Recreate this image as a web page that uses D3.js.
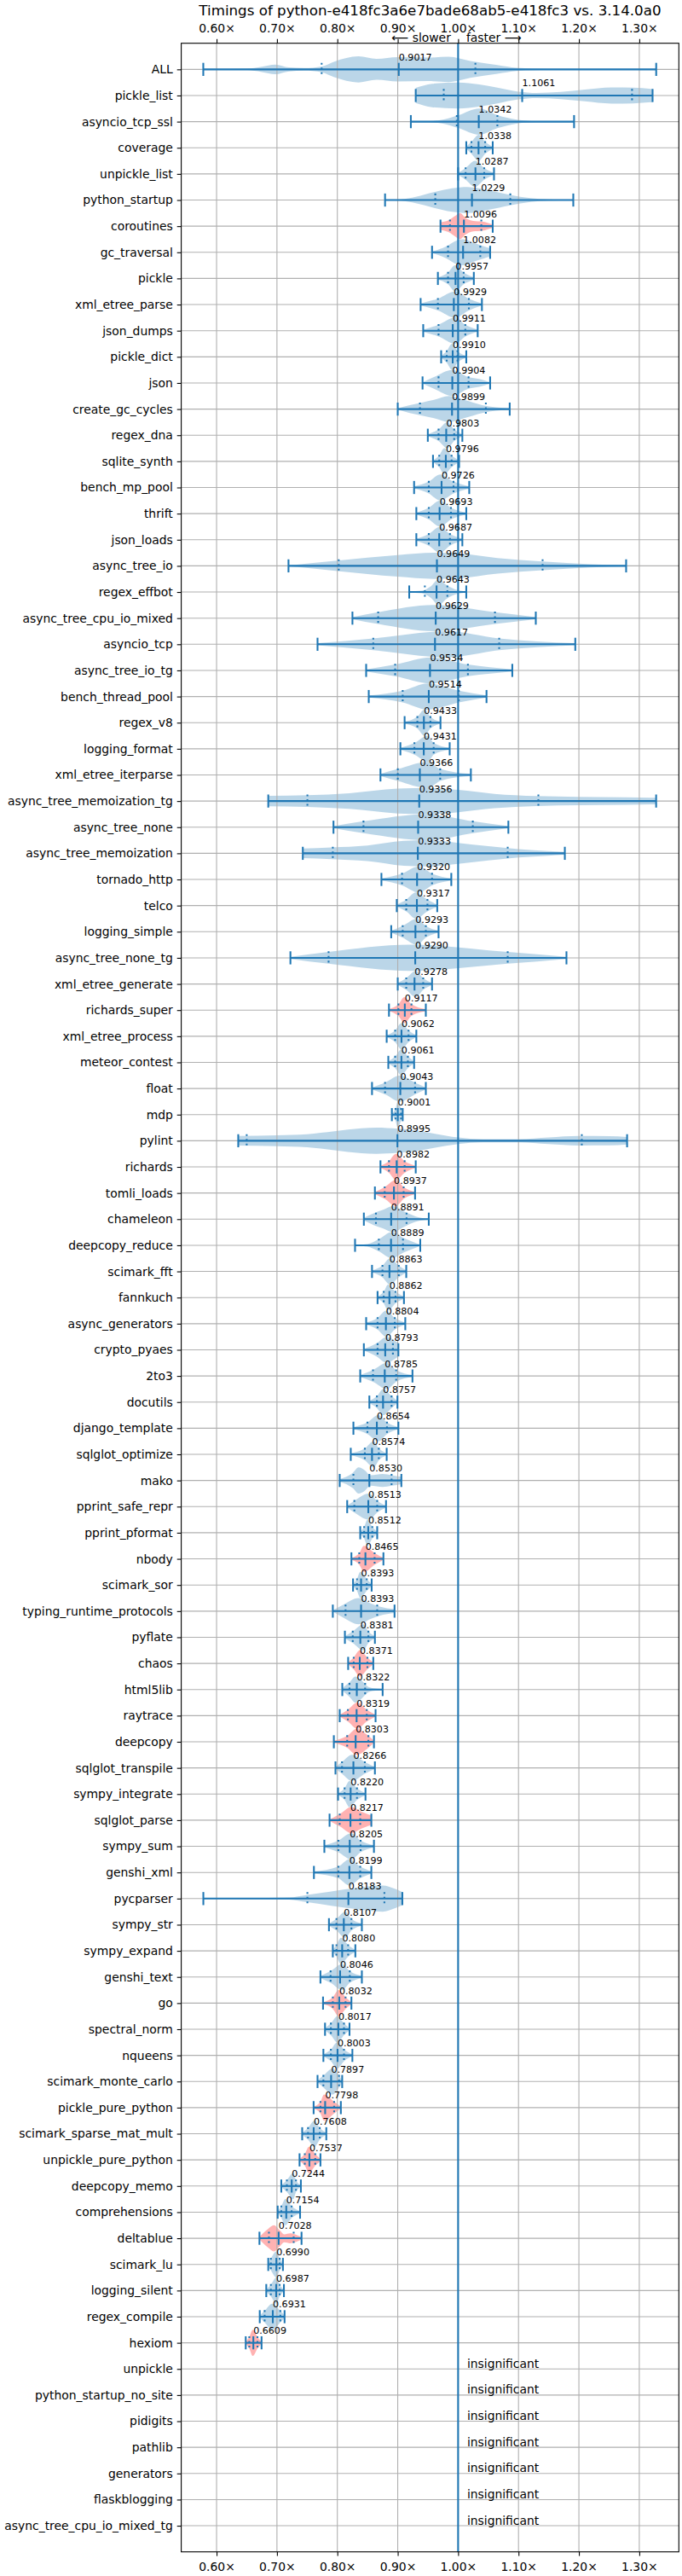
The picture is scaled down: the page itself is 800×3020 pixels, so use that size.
<!DOCTYPE html>
<html><head><meta charset="utf-8">
<script src="https://cdn.jsdelivr.net/npm/d3@7"></script>
<style>
body{margin:0;background:#fff}
svg text{font-family:"DejaVu Sans",sans-serif;fill:#000}
</style>
</head><body>
<svg id="c" width="800" height="3020"></svg>
<script>
// ---------------- DATA ----------------
const chartTitle = "Timings of python-e418fc3a6e7bade68ab5-e418fc3 vs. 3.14.0a0";
const benchmarks = ["ALL","pickle_list","asyncio_tcp_ssl","coverage","unpickle_list","python_startup","coroutines","gc_traversal","pickle","xml_etree_parse",
"json_dumps","pickle_dict","json","create_gc_cycles","regex_dna","sqlite_synth","bench_mp_pool","thrift","json_loads","async_tree_io",
"regex_effbot","async_tree_cpu_io_mixed","asyncio_tcp","async_tree_io_tg","bench_thread_pool","regex_v8","logging_format","xml_etree_iterparse","async_tree_memoization_tg","async_tree_none",
"async_tree_memoization","tornado_http","telco","logging_simple","async_tree_none_tg","xml_etree_generate","richards_super","xml_etree_process","meteor_contest","float",
"mdp","pylint","richards","tomli_loads","chameleon","deepcopy_reduce","scimark_fft","fannkuch","async_generators","crypto_pyaes",
"2to3","docutils","django_template","sqlglot_optimize","mako","pprint_safe_repr","pprint_pformat","nbody","scimark_sor","typing_runtime_protocols",
"pyflate","chaos","html5lib","raytrace","deepcopy","sqlglot_transpile","sympy_integrate","sqlglot_parse","sympy_sum","genshi_xml",
"pycparser","sympy_str","sympy_expand","genshi_text","go","spectral_norm","nqueens","scimark_monte_carlo","pickle_pure_python","scimark_sparse_mat_mult",
"unpickle_pure_python","deepcopy_memo","comprehensions","deltablue","scimark_lu","logging_silent","regex_compile","hexiom"];

const mins = [0.578,0.9298,0.9217,1.0135,1.0,0.879,0.9708,0.9568,0.9665,0.9379,
0.9422,0.9719,0.9411,0.9,0.9498,0.9584,0.9271,0.9308,0.9308,0.7191,
0.919,0.825,0.7672,0.8477,0.852,0.9114,0.9044,0.8714,0.6856,0.7936,
0.7428,0.873,0.8984,0.8892,0.7223,0.9,0.8855,0.8817,0.8844,0.8574,
0.8903,0.6359,0.8714,0.8622,0.8439,0.8293,0.8574,0.8666,0.8477,0.8439,
0.8379,0.853,0.8266,0.8222,0.8039,0.8163,0.8379,0.8233,0.826,0.7925,
0.8125,0.8179,0.8082,0.8039,0.7942,0.7969,0.8012,0.7871,0.7785,0.7612,
0.5781,0.7861,0.7925,0.772,0.7763,0.7796,0.7769,0.7672,0.7607,0.7418,
0.7374,0.7072,0.7012,0.671,0.6856,0.6823,0.6715,0.6483];

const q10s = [0.774,0.9762,0.9978,1.022,1.0124,0.9622,0.9865,0.9833,0.9833,0.9665,
0.9676,0.9811,0.9676,0.9368,0.9676,0.9687,0.9514,0.9514,0.9514,0.8023,
0.9449,0.8676,0.8595,0.8957,0.9082,0.9325,0.9276,0.9001,0.7504,0.8433,
0.7925,0.9071,0.9141,0.9082,0.7855,0.9141,0.9011,0.8957,0.8957,0.879,
0.8963,0.6499,0.8855,0.8784,0.8639,0.8687,0.8747,0.8768,0.8666,0.8666,
0.859,0.8655,0.8498,0.8455,0.8266,0.8282,0.8444,0.8363,0.8325,0.8136,
0.8255,0.8271,0.8201,0.8174,0.8163,0.8077,0.812,0.8039,0.8017,0.8017,
0.7504,0.7985,0.7985,0.7888,0.7925,0.7893,0.7893,0.7769,0.772,0.7515,
0.7461,0.7164,0.7072,0.6867,0.6899,0.6899,0.6796,0.6542];

const medians = [0.9017,1.1061,1.0342,1.0338,1.0287,1.0229,1.0096,1.0082,0.9957,0.9929,
0.9911,0.9910,0.9904,0.9899,0.9803,0.9796,0.9726,0.9693,0.9687,0.9649,
0.9643,0.9629,0.9617,0.9534,0.9514,0.9433,0.9431,0.9366,0.9356,0.9338,
0.9333,0.9320,0.9317,0.9293,0.9290,0.9278,0.9117,0.9062,0.9061,0.9043,
0.9001,0.8995,0.8982,0.8937,0.8891,0.8889,0.8863,0.8862,0.8804,0.8793,
0.8785,0.8757,0.8654,0.8574,0.8530,0.8513,0.8512,0.8465,0.8393,0.8393,
0.8381,0.8371,0.8322,0.8319,0.8303,0.8266,0.8220,0.8217,0.8205,0.8199,
0.8183,0.8107,0.8080,0.8046,0.8032,0.8017,0.8003,0.7897,0.7798,0.7608,
0.7537,0.7244,0.7154,0.7028,0.6990,0.6987,0.6931,0.6609];

const q90s = [1.0286,1.288,1.065,1.0448,1.0432,1.0864,1.0384,1.0367,1.0092,1.0178,
1.0119,0.9989,1.0173,1.0459,0.9935,0.9892,0.9924,0.9881,0.9865,1.1399,
0.9822,1.061,1.068,1.0162,1.0011,0.9541,0.9595,0.9703,1.1329,1.0243,
1.0821,0.9568,0.9492,0.9465,1.0821,0.9422,0.9227,0.9179,0.9168,0.9287,
0.9055,1.2048,0.9114,0.9098,0.9146,0.9087,0.9017,0.8963,0.8951,0.892,
0.8974,0.8898,0.8822,0.8687,0.8898,0.866,0.8579,0.8617,0.8487,0.866,
0.8514,0.8498,0.846,0.8487,0.8514,0.8455,0.8325,0.8379,0.8385,0.8379,
0.8779,0.8233,0.8179,0.8206,0.8136,0.811,0.811,0.8028,0.7947,0.7709,
0.7634,0.7315,0.7243,0.7277,0.7045,0.7045,0.7056,0.6677];

const maxs = [1.328,1.322,1.192,1.0573,1.0594,1.1907,1.0573,1.053,1.026,1.0394,
1.0324,1.0135,1.053,1.0854,1.007,1.0016,1.0184,1.0135,1.007,1.2782,
1.0135,1.1286,1.194,1.0897,1.047,0.9708,0.986,1.0211,1.3279,1.0832,
1.1767,0.9887,0.9654,0.9676,1.1794,0.9568,0.9465,0.9308,0.9271,0.9465,
0.9082,1.2798,0.9298,0.9287,0.9514,0.9373,0.9141,0.9103,0.9125,0.9011,
0.9244,0.8995,0.9011,0.8817,0.906,0.8806,0.866,0.8763,0.8568,0.8947,
0.8622,0.8595,0.875,0.8633,0.8606,0.8622,0.8466,0.8563,0.8606,0.8563,
0.9076,0.8406,0.8298,0.8406,0.8233,0.8201,0.8249,0.808,0.8058,0.7817,
0.772,0.7396,0.7383,0.7407,0.7099,0.7115,0.7126,0.6745];

// location of the densest part of each distribution
const peaks = [0.835,1.0,1.035,1.034,1.028,1.015,1.003,1.008,0.995,0.995,
0.995,0.99,0.99,0.985,0.982,0.977,0.97,0.97,0.97,0.96,
0.968,0.96,0.98,0.955,0.95,0.944,0.95,0.95,0.95,0.95,
0.95,0.935,0.93,0.932,0.92,0.93,0.911,0.906,0.906,0.904,
0.9,0.865,0.897,0.897,0.892,0.892,0.887,0.884,0.881,0.882,
0.882,0.876,0.868,0.86,0.835,0.852,0.85,0.844,0.838,0.835,
0.843,0.837,0.83,0.833,0.832,0.824,0.82,0.823,0.823,0.82,
0.868,0.813,0.806,0.808,0.802,0.8,0.8,0.792,0.778,0.762,
0.753,0.727,0.714,0.695,0.699,0.699,0.692,0.66];

const flagged = ["coroutines","richards_super","richards","tomli_loads","nbody","chaos","raytrace","deepcopy",
"sqlglot_parse","go","pickle_pure_python","unpickle_pure_python","deltablue","hexiom"];

const insignificant = ["unpickle","python_startup_no_site","pidigits","pathlib","generators","flaskblogging","async_tree_cpu_io_mixed_tg"];

// density outlines: [value, relative density]
const densityALL = [[0.578,0.01],[0.62,0.02],[0.65,0.05],[0.675,0.2],[0.697,0.37],[0.72,0.15],[0.745,0.1],[0.774,0.22],[0.795,0.6],[0.835,1.0],[0.865,0.8],[0.9,0.93],[0.95,0.9],[0.984,0.97],[1.02,0.65],[1.065,0.33],[1.097,0.12],[1.15,0.03],[1.22,0.01],[1.328,0.005]];
const densityPickleList = [[0.9298,0.58],[0.957,0.9],[1.0,1.0],[1.035,0.85],[1.065,0.6],[1.1,0.3],[1.13,0.2],[1.17,0.28],[1.21,0.45],[1.254,0.62],[1.29,0.6],[1.322,0.5]];
const densityAsyncioTcpSsl = [[0.9217,0.01],[0.95,0.03],[0.975,0.15],[1.0,0.48],[1.035,1.0],[1.065,0.5],[1.097,0.15],[1.13,0.03],[1.192,0.01]];
const densityPythonStartup = [[0.879,0.01],[0.905,0.05],[0.93,0.25],[0.96,0.6],[0.99,0.9],[1.015,1.0],[1.05,0.75],[1.086,0.4],[1.12,0.15],[1.15,0.05],[1.1907,0.01]];
const densityCoroutines = [[0.9708,0.3],[0.984,0.45],[0.997,0.85],[1.003,1.0],[1.012,0.65],[1.025,0.4],[1.04,0.35],[1.0573,0.12]];
const densityGcTraversal = [[0.9568,0.05],[0.98,0.45],[1.0,0.95],[1.008,1.0],[1.03,0.65],[1.053,0.3]];
const densityJson = [[0.9411,0.05],[0.96,0.45],[0.99,1.0],[1.017,0.45],[1.035,0.3],[1.053,0.05]];
const densityCreateGcCycles = [[0.9,0.05],[0.92,0.3],[0.94,0.5],[0.96,0.7],[0.985,1.0],[1.01,0.7],[1.04,0.3],[1.0854,0.05]];
const densityAsyncTreeIo = [[0.7191,0.03],[0.80,0.4],[0.90,0.83],[0.96,1.0],[1.0,0.95],[1.065,0.6],[1.14,0.33],[1.22,0.12],[1.2782,0.04]];
const densityRegexEffbot = [[0.919,0.05],[0.94,0.1],[0.955,0.45],[0.968,1.0],[0.98,0.55],[0.995,0.2],[1.0135,0.05]];
const densityMemoTg = [[0.6856,0.4],[0.75,0.45],[0.82,0.6],[0.9,0.95],[0.95,1.0],[1.0,0.85],[1.06,0.55],[1.13,0.38],[1.2,0.32],[1.28,0.28],[1.3279,0.25]];
const densityMemo = [[0.7428,0.37],[0.79,0.45],[0.85,0.6],[0.91,0.95],[0.95,1.0],[1.0,0.8],[1.05,0.55],[1.1,0.32],[1.15,0.18],[1.1767,0.1]];
const densityPylint = [[0.6359,0.37],[0.70,0.42],[0.75,0.5],[0.795,0.72],[0.84,0.95],[0.865,1.0],[0.9,0.92],[0.93,0.8],[0.96,0.55],[1.0,0.25],[1.04,0.12],[1.1,0.12],[1.15,0.25],[1.2,0.36],[1.25,0.35],[1.2798,0.28]];
const densityChameleon = [[0.8439,0.1],[0.86,0.45],[0.875,0.7],[0.892,1.0],[0.91,0.6],[0.93,0.2],[0.9514,0.03]];
const densityDeepcopyReduce = [[0.8293,0.02],[0.85,0.1],[0.87,0.5],[0.89,1.0],[0.91,0.55],[0.9373,0.05]];
const densityCryptoPyaes = [[0.8439,0.05],[0.865,0.5],[0.882,1.0],[0.895,0.7],[0.9011,0.5]];
const densityMako = [[0.8039,0.1],[0.826,0.6],[0.835,1.0],[0.845,0.8],[0.855,0.4],[0.865,0.45],[0.875,0.5],[0.89,0.4],[0.906,0.28]];
const densityTyping = [[0.7925,0.05],[0.81,0.5],[0.835,1.0],[0.855,0.6],[0.87,0.35],[0.8947,0.15]];
const densityHtml5lib = [[0.8082,0.1],[0.82,0.55],[0.83,1.0],[0.84,0.7],[0.85,0.25],[0.86,0.1],[0.875,0.05]];
const densitySqlglotParse = [[0.7871,0.05],[0.805,0.5],[0.823,1.0],[0.84,0.65],[0.8563,0.35]];
const densityPycparser = [[0.5781,0.01],[0.65,0.03],[0.72,0.08],[0.75,0.28],[0.79,0.55],[0.83,0.8],[0.875,1.0],[0.895,0.75],[0.9076,0.5]];
const densityDeltablue = [[0.671,0.1],[0.685,0.7],[0.695,1.0],[0.705,0.6],[0.712,0.3],[0.722,0.38],[0.73,0.3],[0.7407,0.1]];

const customDensity = {
  "ALL": densityALL, "pickle_list": densityPickleList, "asyncio_tcp_ssl": densityAsyncioTcpSsl,
  "python_startup": densityPythonStartup, "coroutines": densityCoroutines, "gc_traversal": densityGcTraversal,
  "json": densityJson, "create_gc_cycles": densityCreateGcCycles, "async_tree_io": densityAsyncTreeIo,
  "regex_effbot": densityRegexEffbot, "async_tree_memoization_tg": densityMemoTg, "async_tree_memoization": densityMemo,
  "pylint": densityPylint, "chameleon": densityChameleon, "deepcopy_reduce": densityDeepcopyReduce,
  "crypto_pyaes": densityCryptoPyaes, "mako": densityMako, "typing_runtime_protocols": densityTyping,
  "html5lib": densityHtml5lib, "sqlglot_parse": densitySqlglotParse, "pycparser": densityPycparser,
  "deltablue": densityDeltablue
};

const xTickValues = [0.6,0.7,0.8,0.9,1.0,1.1,1.2,1.3];

// ---------------- CHART ----------------
const svg = d3.select("#c");
const L = 212.6, R = 796.3, T = 50.7, B = 2991.7;
const blue = "#1f77b4";
const allNames = benchmarks.concat(insignificant);

const x = d3.scaleLinear().domain([0.5415, 1.3655]).range([L, R]);
const y = d3.scaleLinear().domain([0, allNames.length + 1]).range([T, B]);
const step = y(1) - y(0);
const halfW = 0.5 * step;     // violin half width
const capH = 0.25 * step;     // cap half length

svg.append("rect").attr("width", 800).attr("height", 3020).attr("fill", "#fff");

// violins
function densityFor(i) {
  const n = benchmarks[i];
  if (customDensity[n]) return customDensity[n];
  const pts = [[mins[i], 0.08]];
  if (q10s[i] < peaks[i]) pts.push([q10s[i], 0.45]);
  pts.push([peaks[i], 1]);
  if (q90s[i] > peaks[i]) pts.push([q90s[i], 0.45]);
  pts.push([maxs[i], 0.08]);
  return pts;
}
const gV = svg.append("g");
benchmarks.forEach((n, i) => {
  const cy = y(i + 1);
  const area = d3.area().curve(d3.curveMonotoneX)
    .x(d => x(d[0])).y0(d => cy + d[1] * halfW).y1(d => cy - d[1] * halfW);
  const red = flagged.includes(n);
  gV.append("path").attr("d", area(densityFor(i)))
    .attr("fill", red ? "#ff0000" : blue).attr("fill-opacity", 0.3);
});

// grid
const gG = svg.append("g").attr("stroke", "#b0b0b0").attr("stroke-width", 1.1);
xTickValues.forEach(v => gG.append("line").attr("x1", x(v)).attr("x2", x(v)).attr("y1", T).attr("y2", B));
allNames.forEach((n, i) => gG.append("line").attr("x1", L).attr("x2", R).attr("y1", y(i + 1)).attr("y2", y(i + 1)));

// error bars
const gL = svg.append("g").attr("stroke", blue).attr("stroke-width", 2.08);
benchmarks.forEach((n, i) => {
  const cy = y(i + 1);
  gL.append("line").attr("x1", x(mins[i])).attr("x2", x(maxs[i])).attr("y1", cy).attr("y2", cy);
  [mins[i], maxs[i], medians[i]].forEach(v =>
    gL.append("line").attr("x1", x(v)).attr("x2", x(v)).attr("y1", cy - capH).attr("y2", cy + capH));
  [q10s[i], q90s[i]].forEach(v =>
    gL.append("line").attr("x1", x(v)).attr("x2", x(v)).attr("y1", cy - capH).attr("y2", cy + capH)
      .attr("stroke-dasharray", "2.08,3.44"));
});

// reference line at 1.0
svg.append("line").attr("x1", x(1)).attr("x2", x(1)).attr("y1", T).attr("y2", B)
  .attr("stroke", blue).attr("stroke-width", 2.08);

// median labels
const fmt = d3.format(".4f");
benchmarks.forEach((n, i) => {
  svg.append("text").attr("x", x(medians[i])).attr("y", y(i + 1) - 10.6)
    .attr("font-size", 11.1).text(fmt(medians[i]));
});
insignificant.forEach((n, j) => {
  const i = benchmarks.length + j;
  svg.append("text").attr("x", x(1) + 10.5).attr("y", y(i + 1) - 1.5)
    .attr("font-size", 13.9).text("insignificant");
});

// axes
const xfmt = v => d3.format(".2f")(v) + "\u00d7";
function styleAxis(g) {
  g.select(".domain").remove();
  g.selectAll(".tick line").attr("stroke", "#000").attr("stroke-width", 1.1);
  g.selectAll(".tick text").attr("font-size", 13.9).attr("font-family", "DejaVu Sans").attr("fill", "#000");
}
svg.append("g").attr("transform", `translate(0,${T})`)
  .call(d3.axisTop(x).tickValues(xTickValues).tickFormat(xfmt).tickSize(4.9).tickPadding(7.5))
  .call(styleAxis);
svg.append("g").attr("transform", `translate(0,${B})`)
  .call(d3.axisBottom(x).tickValues(xTickValues).tickFormat(xfmt).tickSize(4.9).tickPadding(7.5))
  .call(styleAxis);
svg.append("g").attr("transform", `translate(${L},0)`)
  .call(d3.axisLeft(y).tickValues(d3.range(1, allNames.length + 1)).tickFormat(d => allNames[d - 1]).tickSize(4.9).tickPadding(4.9))
  .call(styleAxis);

// spines
svg.append("rect").attr("x", L).attr("y", T).attr("width", R - L).attr("height", B - T)
  .attr("fill", "none").attr("stroke", "#000").attr("stroke-width", 1.1);

// title and direction hints
svg.append("text").attr("x", (L + R) / 2).attr("y", 17.5).attr("text-anchor", "middle")
  .attr("font-size", 16.7).text(chartTitle);
svg.append("text").attr("x", x(1) - 8.5).attr("y", 49.3).attr("text-anchor", "end")
  .attr("font-size", 13.9).text("\u27f5 slower");
svg.append("text").attr("x", x(1) + 9.5).attr("y", 49.3).attr("text-anchor", "start")
  .attr("font-size", 13.9).text("faster \u27f6");
</script>
</body></html>
